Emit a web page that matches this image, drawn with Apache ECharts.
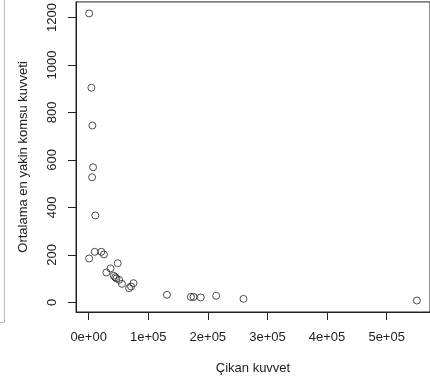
<!DOCTYPE html>
<html>
<head>
<meta charset="utf-8">
<script src="https://cdn.jsdelivr.net/npm/echarts@6/dist/echarts.min.js"></script>
<style>
  html, body { margin: 0; padding: 0; background: #fff; }
  #chart { width: 430px; height: 385px; }
</style>
</head>
<body>
<div id="chart"></div>
<script>
// Outgoing strength (x) vs. mean nearest-neighbour strength (y)
const cikanKuvvet = [
  800, 4600, 6300, 7400, 5800, 11200, 800, 10200, 21200, 25600,
  29800, 36700, 48800, 42100, 44600, 46600, 51200, 55900, 67800, 71100,
  75200, 131400, 171600, 176000, 188100, 214000, 259800, 550700
];
const ortalamaKomsu = [
  1217, 904, 745, 569, 527, 366, 185, 213, 213, 202,
  126, 143, 165, 112, 106, 101, 95, 78, 60, 67,
  81, 32, 23, 23, 21, 28, 15, 8
];

const xTicks = [0, 100000, 200000, 300000, 400000, 500000];
const xTickLabels = ['0e+00', '1e+05', '2e+05', '3e+05', '4e+05', '5e+05'];
const yTicks = [0, 200, 400, 600, 800, 1000, 1200];
const yTickLabels = ['0', '200', '400', '600', '800', '1000', '1200'];

const xTitle = 'Çikan kuvvet';
const yTitle = 'Ortalama en yakin komsu kuvveti';

const points = cikanKuvvet.map((x, i) => [x, ortalamaKomsu[i]]);

const font = '"Liberation Sans", Arial, sans-serif';
const ink = '#222';

const chart = echarts.init(document.getElementById('chart'), null, { renderer: 'canvas' });
chart.setOption({
  animation: false,
  backgroundColor: '#fff',
  grid: {
    left: 76, top: 1, width: 360, height: 311,
    show: true, borderColor: ink, borderWidth: 1, backgroundColor: 'transparent'
  },
  xAxis: {
    type: 'value',
    position: 'bottom',
    min: -21200, max: 572700,
    splitLine: { show: false },
    axisLine: { show: true, onZero: false, lineStyle: { color: ink, width: 1 } },
    axisTick: { show: true, inside: false, length: 8, customValues: xTicks, lineStyle: { color: ink } },
    axisLabel: {
      customValues: xTicks, inside: false, margin: 19, color: ink, fontSize: 13, fontFamily: font,
      formatter: v => xTickLabels[xTicks.indexOf(v)]
    },
    name: xTitle, nameLocation: 'middle', nameGap: 50,
    nameTextStyle: { color: ink, fontSize: 13, fontFamily: font }
  },
  yAxis: {
    type: 'value',
    position: 'left',
    min: -40.4, max: 1265.4,
    splitLine: { show: false },
    axisLine: { show: true, onZero: false, lineStyle: { color: ink, width: 1 } },
    axisTick: { show: true, inside: false, length: 8, customValues: yTicks, lineStyle: { color: ink } },
    axisLabel: {
      customValues: yTicks, inside: false, rotate: 90, margin: 17, color: ink, fontSize: 13, fontFamily: font,
      formatter: v => yTickLabels[yTicks.indexOf(v)]
    },
    name: yTitle, nameLocation: 'middle', nameGap: 46, nameRotate: 90,
    nameTextStyle: { color: ink, fontSize: 13, fontFamily: font }
  },
  graphic: [
    { type: 'polyline', silent: true,
      shape: { points: [[4.5, 0], [4.5, 322.5], [0, 322.5]] },
      style: { stroke: '#bbb', lineWidth: 1, fill: null } }
  ],
  series: [{
    type: 'scatter',
    data: points,
    symbol: 'circle',
    symbolSize: 7,
    itemStyle: { color: 'rgba(0,0,0,0)', borderColor: ink, borderWidth: 1 }
  }]
});
</script>
</body>
</html>
